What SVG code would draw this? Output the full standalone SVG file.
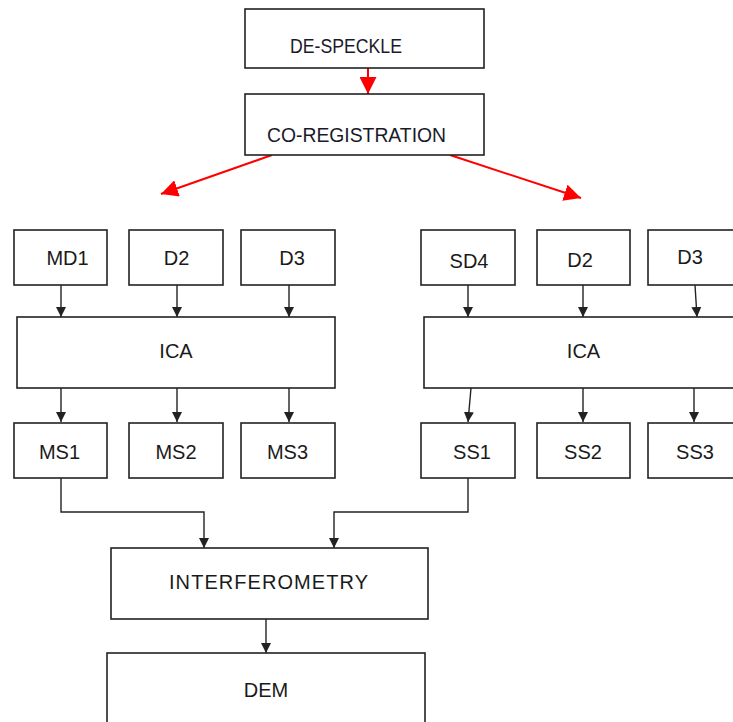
<svg xmlns="http://www.w3.org/2000/svg" width="733" height="722" viewBox="0 0 733 722">
<defs>
<style>
.box{fill:#fff;stroke:#222;stroke-width:1.6}
.t{font-family:"Liberation Sans",Arial,sans-serif;font-size:20px;fill:#1a1a1a;text-anchor:middle}
.tc{font-family:"Liberation Sans",Arial,sans-serif;font-size:20px;fill:#1a1a2a}
.c{fill:none;stroke:#222;stroke-width:1.4}
.r{fill:none;stroke:#f00;stroke-width:2}
</style>
<marker id="ab" viewBox="0 0 10 10" refX="10" refY="5" markerWidth="10" markerHeight="11" markerUnits="userSpaceOnUse" orient="auto">
<path d="M0,0 L10,5 L0,10 Z" fill="#222"/>
</marker>
<marker id="ar" viewBox="0 0 10 10" refX="10" refY="5" markerWidth="17" markerHeight="17" markerUnits="userSpaceOnUse" orient="auto">
<path d="M0,0 L10,5 L0,10 Z" fill="#f00"/>
</marker>
</defs>
<rect width="733" height="722" fill="#fff"/>
<g id="connectors">
<line class="r" x1="368" y1="68" x2="368" y2="94" marker-end="url(#ar)"/>
<line class="r" x1="272" y1="155" x2="161" y2="194" marker-end="url(#ar)"/>
<line class="r" x1="450" y1="155" x2="581" y2="198" marker-end="url(#ar)"/>
<line class="c" x1="61" y1="285" x2="61" y2="317" marker-end="url(#ab)"/>
<line class="c" x1="177" y1="285" x2="177" y2="317" marker-end="url(#ab)"/>
<line class="c" x1="289" y1="285" x2="289" y2="317" marker-end="url(#ab)"/>
<line class="c" x1="468" y1="285" x2="468" y2="317" marker-end="url(#ab)"/>
<line class="c" x1="583" y1="285" x2="583" y2="317" marker-end="url(#ab)"/>
<line class="c" x1="695" y1="285" x2="697" y2="317" marker-end="url(#ab)"/>
<line class="c" x1="61" y1="388" x2="61" y2="422" marker-end="url(#ab)"/>
<line class="c" x1="177" y1="388" x2="177" y2="422" marker-end="url(#ab)"/>
<line class="c" x1="289" y1="388" x2="289" y2="422" marker-end="url(#ab)"/>
<line class="c" x1="471" y1="388" x2="468" y2="422" marker-end="url(#ab)"/>
<line class="c" x1="583" y1="388" x2="583" y2="422" marker-end="url(#ab)"/>
<line class="c" x1="694" y1="388" x2="694" y2="422" marker-end="url(#ab)"/>
<path class="c" d="M61,478 V512 H204 V548" marker-end="url(#ab)"/>
<path class="c" d="M468,478 V512 H334 V548" marker-end="url(#ab)"/>
<line class="c" x1="266" y1="619" x2="266" y2="653" marker-end="url(#ab)"/>
</g>
<g id="despeckle"><rect class="box" x="245" y="9" width="239" height="59"/><text class="tc" x="290" y="53" textLength="112" lengthAdjust="spacingAndGlyphs">DE-SPECKLE</text></g>
<g id="coreg"><rect class="box" x="245" y="94" width="239" height="61"/><text class="tc" x="267" y="142" textLength="179" lengthAdjust="spacingAndGlyphs">CO-REGISTRATION</text></g>
<g id="md1"><rect class="box" x="14" y="230" width="93" height="55"/><text class="t" x="67.5" y="265">MD1</text></g>
<g id="d2a"><rect class="box" x="129" y="230" width="94" height="55"/><text class="t" x="176.5" y="265">D2</text></g>
<g id="d3a"><rect class="box" x="241" y="230" width="94" height="55"/><text class="t" x="292" y="265">D3</text></g>
<g id="sd4"><rect class="box" x="421" y="230" width="94" height="55"/><text class="t" x="469" y="268">SD4</text></g>
<g id="d2b"><rect class="box" x="537" y="230" width="93" height="55"/><text class="t" x="580" y="267">D2</text></g>
<g id="d3b"><rect class="box" x="648" y="230" width="100" height="55"/><text class="t" x="690" y="264">D3</text></g>
<g id="ica1"><rect class="box" x="17" y="317" width="318" height="71"/><text class="t" x="176" y="358">ICA</text></g>
<g id="ica2"><rect class="box" x="424" y="317" width="320" height="71"/><text class="t" x="583.5" y="358">ICA</text></g>
<g id="ms1"><rect class="box" x="14" y="423" width="93" height="55"/><text class="t" x="59.5" y="459">MS1</text></g>
<g id="ms2"><rect class="box" x="129" y="423" width="94" height="55"/><text class="t" x="176" y="459">MS2</text></g>
<g id="ms3"><rect class="box" x="241" y="423" width="94" height="55"/><text class="t" x="287.5" y="459">MS3</text></g>
<g id="ss1"><rect class="box" x="421" y="423" width="94" height="55"/><text class="t" x="472" y="459">SS1</text></g>
<g id="ss2"><rect class="box" x="537" y="423" width="93" height="55"/><text class="t" x="583" y="459">SS2</text></g>
<g id="ss3"><rect class="box" x="648" y="423" width="100" height="55"/><text class="t" x="695" y="459">SS3</text></g>
<g id="interferometry"><rect class="box" x="111" y="548" width="317" height="71"/><text class="t" x="268.5" y="589" textLength="199">INTERFEROMETRY</text></g>
<g id="dem"><rect class="box" x="107" y="653" width="318" height="80"/><text class="t" x="266" y="697">DEM</text></g>
</svg>
